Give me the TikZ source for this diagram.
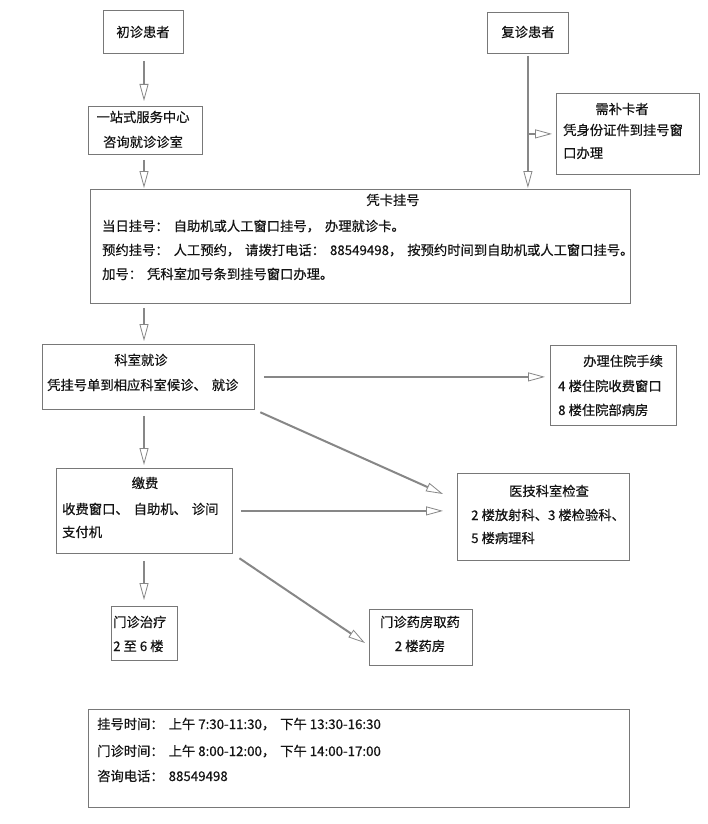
\documentclass[tikz,border=0pt]{standalone}
\usepackage{fontspec}
\setmainfont{Noto Sans CJK SC}[FakeBold=0.5]
\usetikzlibrary{arrows.meta}
\definecolor{ln}{RGB}{135,135,135}
\definecolor{bd}{RGB}{120,120,120}
\definecolor{tx}{RGB}{20,20,20}
\newcommand\gp{\hspace{5pt}}
\begin{document}
\begin{tikzpicture}[x=1pt,y=-1pt,
  box/.style={draw=bd, line width=0.8pt, inner sep=0pt, anchor=north west},
  txt/.style={text=tx, font=\fontsize{13.3}{14}\selectfont, inner sep=0pt, text height=10.5pt, text depth=2.5pt},
  arr/.style={draw=ln, line width=2pt, -{Triangle[open, length=17pt, width=9pt, line width=0.8pt]}}]
\fill[white] (0,0) rectangle (708,824);
\useasboundingbox (0,0) rectangle (708,824);
% boxes
\node[box, minimum width=80pt, minimum height=43pt] (chu) at (103,10) {};
\node[box, minimum width=81pt, minimum height=41pt] (fu) at (487,12) {};
\node[box, minimum width=114pt, minimum height=48pt] (yzs) at (88,106) {};
\node[box, minimum width=143pt, minimum height=81pt] (bk) at (556,93) {};
\node[box, minimum width=540pt, minimum height=114pt] (pk) at (90,189) {};
\node[box, minimum width=212pt, minimum height=65pt] (ks) at (42,344) {};
\node[box, minimum width=126pt, minimum height=80pt] (zy) at (550,345) {};
\node[box, minimum width=176pt, minimum height=85pt] (jf) at (56,468) {};
\node[box, minimum width=172pt, minimum height=87pt] (yj) at (457,473) {};
\node[box, minimum width=66pt, minimum height=54pt] (zl) at (111,606) {};
\node[box, minimum width=103pt, minimum height=56pt] (yf) at (369,609) {};
\node[box, minimum width=541pt, minimum height=98pt] (info) at (88,709) {};
% texts
\node[txt] (chuT) at (143,33) {初诊患者};
\node[txt] (fuT) at (528,33) {复诊患者};
\node[txt] (yzs1) at (143,118) {一站式服务中心};
\node[txt] (yzs2) at (143,143) {咨询就诊诊室};
\node[txt] (bk1) at (622,110) {需补卡者};
\node[txt, anchor=west] (bk2) at (563,131) {凭身份证件到挂号窗};
\node[txt, anchor=west] (bk3) at (563,154) {口办理};
\node[txt] (pkT) at (393,201) {凭卡挂号};
\node[txt, anchor=west] (pk1) at (102,227) {当日挂号：\gp 自助机或人工窗口挂号，\gp 办理就诊卡。};
\node[txt, anchor=west] (pk2) at (102,251) {预约挂号：\gp 人工预约，\gp 请拨打电话：\gp 88549498，\gp 按预约时间到自助机或人工窗口挂号。};
\node[txt, anchor=west] (pk3) at (102,275) {加号：\gp 凭科室加号条到挂号窗口办理。};
\node[txt] (ks1) at (141,361) {科室就诊};
\node[txt, anchor=west] (ks2) at (47,386) {凭挂号单到相应科室候诊、\gp 就诊};
\node[txt, anchor=west] (zy1) at (583,362) {办理住院手续};
\node[txt, anchor=west] (zy2) at (558,387) {4 楼住院收费窗口};
\node[txt, anchor=west] (zy3) at (558,411) {8 楼住院部病房};
\node[txt] (jf1) at (145,484) {缴费};
\node[txt, anchor=west] (jf2) at (62,510) {收费窗口、\gp 自助机、\gp 诊间};
\node[txt, anchor=west] (jf3) at (62,533) {支付机};
\node[txt] (yj1) at (549,492) {医技科室检查};
\node[txt, anchor=west] (yj2) at (471,516) {2 楼放射科、3 楼检验科、};
\node[txt, anchor=west] (yj3) at (471,539) {5 楼病理科};
\node[txt, anchor=west] (zl1) at (113,623) {门诊治疗};
\node[txt, anchor=west] (zl2) at (113,647) {2 至 6 楼};
\node[txt] (yf1) at (420,623) {门诊药房取药};
\node[txt] (yf2) at (420,647) {2 楼药房};
\node[txt, anchor=west] (i1) at (97,725) {挂号时间：\gp 上午 7:30-11:30，\gp 下午 13:30-16:30};
\node[txt, anchor=west] (i2) at (97,752) {门诊时间：\gp 上午 8:00-12:00，\gp 下午 14:00-17:00};
\node[txt, anchor=west] (i3) at (97,777) {咨询电话：\gp 88549498};
% connectors
\coordinate (col) at (144,0);
\coordinate (br) at (fu.south |- bk.west);
\coordinate (t1) at (443,494);
\coordinate (t2) at (365,643);
\draw[arr, shorten <=7pt, shorten >=5pt] (chu.south -| col) -- (yzs.north -| col);
\draw[arr, shorten <=5pt, shorten >=1pt] (yzs.south -| col) -- (pk.north -| col);
\draw[arr, shorten <=2pt, shorten >=1pt] (fu.south) -- (fu.south |- pk.north);
\draw[arr, shorten >=4pt] (br) -- (bk.west);
\draw[arr, shorten <=4pt, shorten >=3pt] (pk.south -| col) -- (ks.north -| col);
\draw[arr, shorten <=6pt, shorten >=3pt] (ks.south -| col) -- (jf.north -| col);
\draw[arr, shorten <=7pt, shorten >=6pt] (jf.south -| col) -- (zl.north -| col);
\draw[arr, shorten <=9pt, shorten >=5pt] (ks.east) -- (ks.east -| zy.west);
\draw[arr, shorten <=6pt] (ks.south east) -- (t1);
\draw[arr, shorten <=8pt, shorten >=14pt] (jf.east) -- (jf.east -| yj.west);
\draw[arr, shorten <=8pt] (jf.south east) -- (t2);
\end{tikzpicture}
\end{document}
